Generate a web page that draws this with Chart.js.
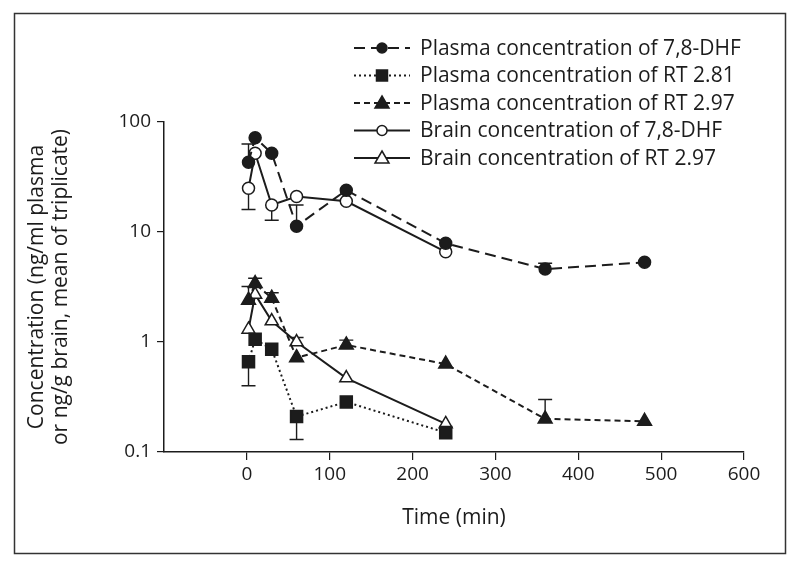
<!DOCTYPE html>
<html>
<head>
<meta charset="utf-8">
<script src="https://cdn.jsdelivr.net/npm/chart.js@4.4.1/dist/chart.umd.min.js"></script>
<style>
  html, body { margin: 0; padding: 0; background: #fff; }
  #wrap { width: 800px; height: 568px; }
</style>
</head>
<body>
<div id="wrap"><canvas id="pkChart" width="800" height="568"></canvas></div>
<script>
// time points (min)
const times = [2, 10, 30, 60, 120, 240, 360, 480];
const xTicks = [0, 100, 200, 300, 400, 500, 600];
const yTicks = [0.1, 1, 10, 100];

// mean concentrations
const plasmaDHF = [43, 72, 52, 11.3, 24, 7.9, 4.6, 5.3];
const plasmaRT281 = [0.66, 1.06, 0.86, 0.21, 0.285, 0.15];
const plasmaRT297 = [2.4, 3.4, 2.5, 0.72, 0.94, 0.63, 0.2, 0.19];
const brainDHF = [25, 52, 17.6, 21, 19, 6.6];
const brainRT297 = [1.3, 2.7, 1.55, 1.0, 0.47, 0.18];

// end value of each error bar (null = none drawn)
const plasmaDHFErr = [63, null, null, 17.6, null, null, 5.2, null];
const plasmaRT281Err = [0.40, null, null, 0.13, null, null];
const plasmaRT297Err = [3.2, 3.8, 2.8, null, 1.04, null, 0.30, null];
const brainDHFErr = [16, null, 12.8, null, null, null];
const brainRT297Err = [null, null, null, 1.1, null, null];

const ink = '#1c1c1c';
const font = "'Open Sans', 'Noto Sans', sans-serif";
const textSize = 21;

const toPoints = vals => vals.map((v, i) => ({ x: times[i], y: v }));

const datasets = [
    { label: 'Plasma concentration of 7,8-DHF', data: toPoints(plasmaDHF), err: plasmaDHFErr,
      borderDash: [11, 6], pointStyle: 'circle', pointRadius: 6, backgroundColor: ink },
    { label: 'Plasma concentration of RT 2.81', data: toPoints(plasmaRT281), err: plasmaRT281Err,
      borderDash: [2, 3], pointStyle: 'rect', pointRadius: 8.5, backgroundColor: ink },
    { label: 'Plasma concentration of RT 2.97', data: toPoints(plasmaRT297), err: plasmaRT297Err,
      borderDash: [6, 4], pointStyle: 'triangle', pointRadius: 8, backgroundColor: ink },
    { label: 'Brain concentration of 7,8-DHF', data: toPoints(brainDHF), err: brainDHFErr,
      borderDash: [], pointStyle: 'circle', pointRadius: 6, backgroundColor: '#fff' },
    { label: 'Brain concentration of RT 2.97', data: toPoints(brainRT297), err: brainRT297Err,
      borderDash: [], pointStyle: 'triangle', pointRadius: 7.5, backgroundColor: '#fff' }
].map(d => Object.assign({
    borderColor: ink,
    borderWidth: 2,
    pointBorderColor: ink,
    pointBackgroundColor: d.backgroundColor,
    pointBorderWidth: 1.5,
    pointHoverRadius: d.pointRadius,
    tension: 0,
    fill: false
}, d));

// frame + error bars + legend
const decor = {
    id: 'decor',
    beforeDraw(chart) {
        const ctx = chart.ctx;
        ctx.save();
        ctx.strokeStyle = '#333';
        ctx.lineWidth = 1.5;
        ctx.strokeRect(14.5, 13.5, 771, 540);
        ctx.restore();
    },
    beforeDatasetsDraw(chart) {
        const ctx = chart.ctx;
        const y = chart.scales.y;
        ctx.save();
        ctx.strokeStyle = ink;
        ctx.lineWidth = 1.4;
        chart.data.datasets.forEach((ds, di) => {
            const meta = chart.getDatasetMeta(di);
            ds.err.forEach((e, i) => {
                if (e == null) return;
                const p = meta.data[i];
                const ye = y.getPixelForValue(e);
                ctx.beginPath();
                ctx.moveTo(p.x, p.y);
                ctx.lineTo(p.x, ye);
                ctx.moveTo(p.x - 7, ye);
                ctx.lineTo(p.x + 7, ye);
                ctx.stroke();
            });
        });
        ctx.restore();
    },
    afterDraw(chart) {
        const ctx = chart.ctx;
        ctx.save();
        chart.data.datasets.forEach((ds, i) => {
            const ly = 48 + i * 27.5;
            ctx.strokeStyle = ink;
            ctx.lineWidth = 2;
            ctx.setLineDash(ds.borderDash);
            ctx.beginPath();
            ctx.moveTo(354, ly);
            ctx.lineTo(410, ly);
            ctx.stroke();
            ctx.setLineDash([]);
            ctx.fillStyle = ds.pointBackgroundColor;
            ctx.lineWidth = 1.5;
            const r = ds.pointStyle === 'rect' ? 5.5 : 5;
            ctx.beginPath();
            if (ds.pointStyle === 'circle') {
                ctx.arc(382, ly, r, 0, Math.PI * 2);
            } else if (ds.pointStyle === 'rect') {
                ctx.rect(382 - r, ly - r, 2 * r, 2 * r);
            } else {
                ctx.moveTo(382, ly - 7);
                ctx.lineTo(389, ly + 5);
                ctx.lineTo(375, ly + 5);
                ctx.closePath();
            }
            ctx.fill();
            ctx.stroke();
            ctx.fillStyle = ink;
            ctx.font = textSize + 'px ' + font;
            ctx.textBaseline = 'middle';
            ctx.fillText(ds.label, 420, ly + 1);
        });
        ctx.restore();
    }
};

const ctx = document.getElementById('pkChart').getContext('2d');
new Chart(ctx, {
    type: 'line',
    data: { datasets: datasets },
    plugins: [decor],
    options: {
        responsive: false,
        animation: false,
        events: [],
        layout: { padding: { left: 16, right: 56, top: 122, bottom: 16 } },
        plugins: { legend: { display: false }, tooltip: { enabled: false } },
        scales: {
            x: {
                type: 'linear',
                min: -100,
                max: 600,
                afterBuildTicks: s => { s.ticks = xTicks.map(v => ({ value: v })); },
                afterFit: s => { s.height = 100; },
                grid: { drawOnChartArea: false, drawTicks: true, tickLength: 8, color: ink, lineWidth: 1.2 },
                border: { display: true, color: ink, width: 1.5 },
                ticks: { color: ink, padding: 3, font: { family: font, size: 19 }, maxRotation: 0 },
                title: { display: true, text: 'Time (min)', color: ink,
                         font: { family: font, size: textSize }, padding: { top: 0, bottom: 21 } }
            },
            y: {
                type: 'logarithmic',
                min: 0.1,
                max: 100,
                afterBuildTicks: s => { s.ticks = yTicks.map(v => ({ value: v })); },
                afterFit: s => { s.width = 148; },
                grid: { drawOnChartArea: false, drawTicks: true, tickLength: 7, color: ink, lineWidth: 1.2 },
                border: { display: true, color: ink, width: 1.5 },
                ticks: { color: ink, padding: 6, font: { family: font, size: 19 },
                         callback: v => String(v) },
                title: { display: true,
                         text: ['Concentration (ng/ml plasma', 'or ng/g brain, mean of triplicate)'],
                         color: ink, font: { family: font, size: textSize, lineHeight: 1.15 },
                         padding: { top: 9, bottom: 0 } }
            }
        }
    }
});
</script>
</body>
</html>
